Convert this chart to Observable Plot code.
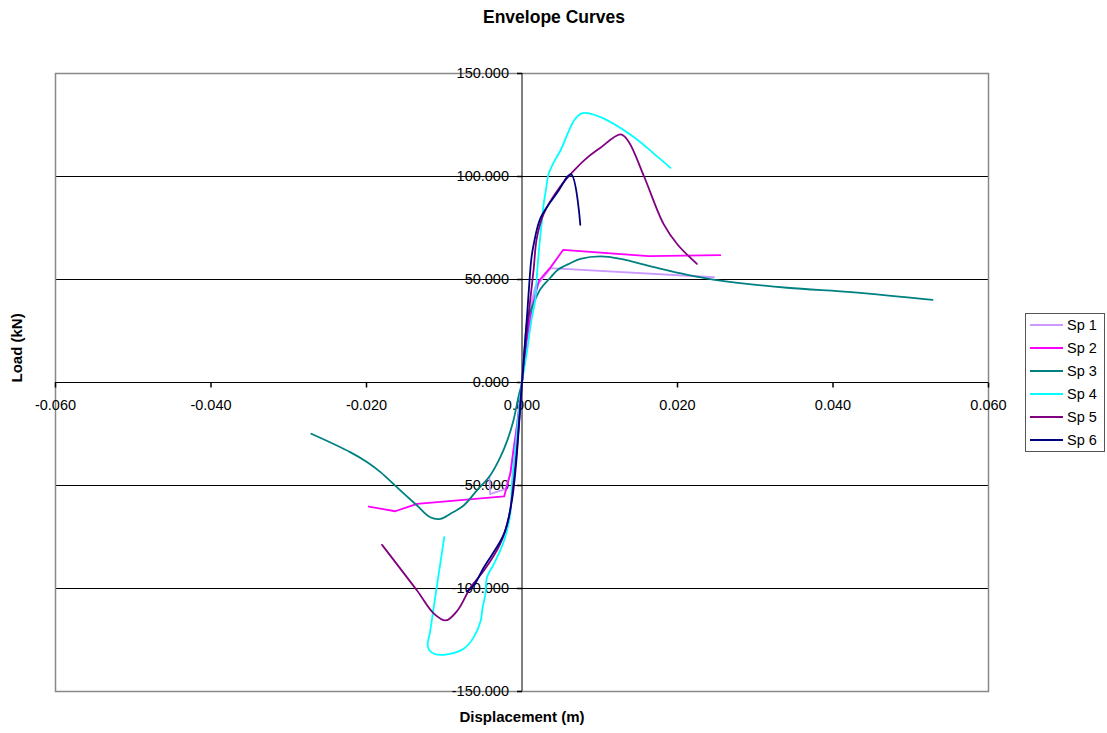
<!DOCTYPE html>
<html>
<head>
<meta charset="utf-8">
<script src="https://cdn.jsdelivr.net/npm/d3@7"></script>
<script src="https://cdn.jsdelivr.net/npm/@observablehq/plot@0.6"></script>
<style>
  html, body { margin: 0; padding: 0; background: #fff; }
  #wrap { position: relative; width: 1107px; height: 733px; font-family: "Liberation Sans", Arial, sans-serif; }
  #legend { position: absolute; left: 1025px; top: 313px; width: 80px; height: 139px; box-sizing: border-box;
            border: 1px solid #555; background: #fff; }
  .row { position: absolute; left: 4px; height: 20px; display: flex; align-items: center; font-size: 14.5px; color: #000; }
  .sw { width: 33px; height: 0; border-top: 2px solid; margin-right: 4px; }
</style>
</head>
<body>
<div id="wrap"><div id="legend"></div></div>
<script>
// Envelope curves: [displacement (m), load (kN)], from the negative tip through the origin to the positive tip
const sp1 = [[-0.0042,-46],[-0.0041,-54.2],[-0.0021,-51.6],[-0.0015,-44],[-0.0008,-25],[0,0],[0.0007,25],[0.0013,40],[0.0017,46.3],[0.0026,50.3],[0.0037,55.5],[0.0247,51.1]];
const sp2 = [[-0.0197,-60.2],[-0.0163,-62.5],[-0.0135,-58.9],[-0.0023,-55.3],[-0.0015,-44.3],[-0.0011,-33],[-0.0006,-20],[0,0],[0.0006,20],[0.0013,36.6],[0.0022,49.5],[0.0037,56],[0.0053,64.4],[0.0163,61.3],[0.0255,61.8]];
const sp3 = [[-0.0271,-24.9],[-0.0221,-33.8],[-0.0199,-38.7],[-0.0182,-43.5],[-0.0161,-50.8],[-0.0135,-59.7],[-0.0118,-65.4],[-0.0105,-66.2],[-0.0092,-63.7],[-0.0075,-59.7],[-0.0058,-52.4],[-0.0041,-45.1],[-0.0028,-36.3],[-0.0019,-28.2],[-0.0011,-18.4],[-0.0004,-6],[0,0],[0.0003,15],[0.0007,30.1],[0.0013,36.6],[0.0024,45.5],[0.0037,51.1],[0.0045,54.4],[0.0062,57.9],[0.0075,60],[0.0101,61.2],[0.0127,60],[0.017,56],[0.0213,52.3],[0.0255,49.5],[0.0341,46],[0.0427,43.8],[0.0528,40.1]];
const sp4 = [[-0.0100,-75.1],[-0.0118,-120.4],[-0.0121,-128.5],[-0.0113,-131.7],[-0.0096,-132],[-0.0075,-129.3],[-0.0062,-123.6],[-0.0053,-115.5],[-0.0051,-109.9],[-0.0047,-102.6],[-0.0045,-94.5],[-0.0036,-88],[-0.0023,-76.7],[-0.0015,-63.7],[-0.0013,-49.2],[-0.0008,-29.8],[0,0],[0.0006,14],[0.0012,30],[0.0017,40],[0.0019,51],[0.0022,65],[0.0026,80],[0.0028,87],[0.0031,94],[0.0034,101],[0.0041,107],[0.005,113],[0.0067,127.2],[0.0077,130.7],[0.0101,128.8],[0.0144,119.1],[0.017,111],[0.0191,104.2]];
const sp5 = [[-0.018,-78.8],[-0.0135,-101],[-0.0113,-112.3],[-0.0098,-115.5],[-0.0083,-110.7],[-0.0066,-99.4],[-0.0049,-91.3],[-0.0028,-78.3],[-0.0017,-65.4],[-0.0011,-49.2],[-0.0006,-29.8],[0,0],[0.0005,20],[0.001,38],[0.0015,55],[0.0019,70],[0.0028,82],[0.0049,95],[0.0067,103],[0.0085,109.5],[0.0101,114],[0.0127,120.4],[0.0137,117],[0.0157,100],[0.0182,77],[0.02,67],[0.0225,57.6]];
const sp6 = [[-0.0071,-101.5],[-0.0062,-98.5],[-0.0049,-89.7],[-0.0023,-73.4],[-0.0013,-57.3],[-0.0008,-41.1],[0,0],[0.0004,20],[0.0007,35],[0.0009,46],[0.0012,60],[0.0015,67],[0.0024,80],[0.0045,92],[0.0063,101],[0.0075,76.5]];

const seriesNames = ["Sp 1", "Sp 2", "Sp 3", "Sp 4", "Sp 5", "Sp 6"];
const seriesData = [sp1, sp2, sp3, sp4, sp5, sp6];
const seriesColors = ["#CC99FF", "#FF00FF", "#008080", "#00FFFF", "#800080", "#000080"];
const seriesCurves = ["linear", "linear", "catmull-rom", "catmull-rom", "catmull-rom", "catmull-rom"];

const xTicks = [-0.06, -0.04, -0.02, 0, 0.02, 0.04, 0.06];
const yTicks = [-150, -100, -50, 0, 50, 100, 150];
const yGrid = [-100, -50, 50, 100];

const rows = seriesData.flatMap((pts, i) => pts.map(([d, L]) => ({series: seriesNames[i], d, L})));

// short tick strokes drawn as custom dot symbols
const tickLeft = {draw(ctx) { ctx.moveTo(0, 0); ctx.lineTo(-5, 0); }};
const tickDown = {draw(ctx) { ctx.moveTo(0, 0); ctx.lineTo(0, 5); }};
const font = "'Liberation Sans', Arial, sans-serif";

const chart = Plot.plot({
  width: 1107,
  height: 733,
  marginLeft: 55,
  marginRight: 119,
  marginTop: 73,
  marginBottom: 42,
  style: {fontFamily: font, background: "#fff"},
  x: {domain: [-0.06, 0.06], axis: null},
  y: {domain: [-150, 150], axis: null},
  marks: [
    Plot.ruleY(yGrid, {stroke: "#000", strokeWidth: 1}),
    Plot.frame({stroke: "#888", strokeWidth: 1.5}),
    Plot.ruleX([0], {stroke: "#000"}),
    Plot.ruleY([0], {stroke: "#000"}),
    Plot.dot(yTicks, {x: () => 0, y: d => d, symbol: tickLeft, stroke: "#000", fill: "none", r: 3}),
    Plot.dot(xTicks, {x: d => d, y: () => 0, symbol: tickDown, stroke: "#000", fill: "none", r: 3}),
    Plot.text(yTicks, {x: () => 0, y: d => d, text: d => d.toFixed(3), textAnchor: "end", dx: -13, fontSize: 14.5, fill: "#000"}),
    Plot.text(xTicks, {x: d => d, y: () => 0, text: d => d.toFixed(3), dy: 23, fontSize: 14.5, fill: "#000"}),
    ...seriesData.map((pts, i) => Plot.line(rows.filter(r => r.series === seriesNames[i]), {
      x: "d", y: "L", stroke: seriesColors[i], strokeWidth: 1.8, curve: seriesCurves[i]
    })),
    Plot.text(["Envelope Curves"], {frameAnchor: "top", lineAnchor: "middle", dy: -56, dx: 32, fontWeight: "bold", fontSize: 17.5, fill: "#000"}),
    Plot.text(["Displacement (m)"], {frameAnchor: "bottom", lineAnchor: "middle", dy: 26, fontWeight: "bold", fontSize: 15, fill: "#000"}),
    Plot.text(["Load (kN)"], {frameAnchor: "left", lineAnchor: "middle", dx: -38, rotate: -90, fontWeight: "bold", fontSize: 15, fill: "#000"})
  ]
});

const wrap = document.getElementById("wrap");
wrap.insertBefore(chart, wrap.firstChild);

// legend
const legend = d3.select("#legend");
seriesNames.forEach((name, i) => {
  const row = legend.append("div").attr("class", "row").style("top", (1 + i * 23) + "px");
  row.append("span").attr("class", "sw").style("border-color", seriesColors[i]);
  row.append("span").text(name);
});
</script>
</body>
</html>
